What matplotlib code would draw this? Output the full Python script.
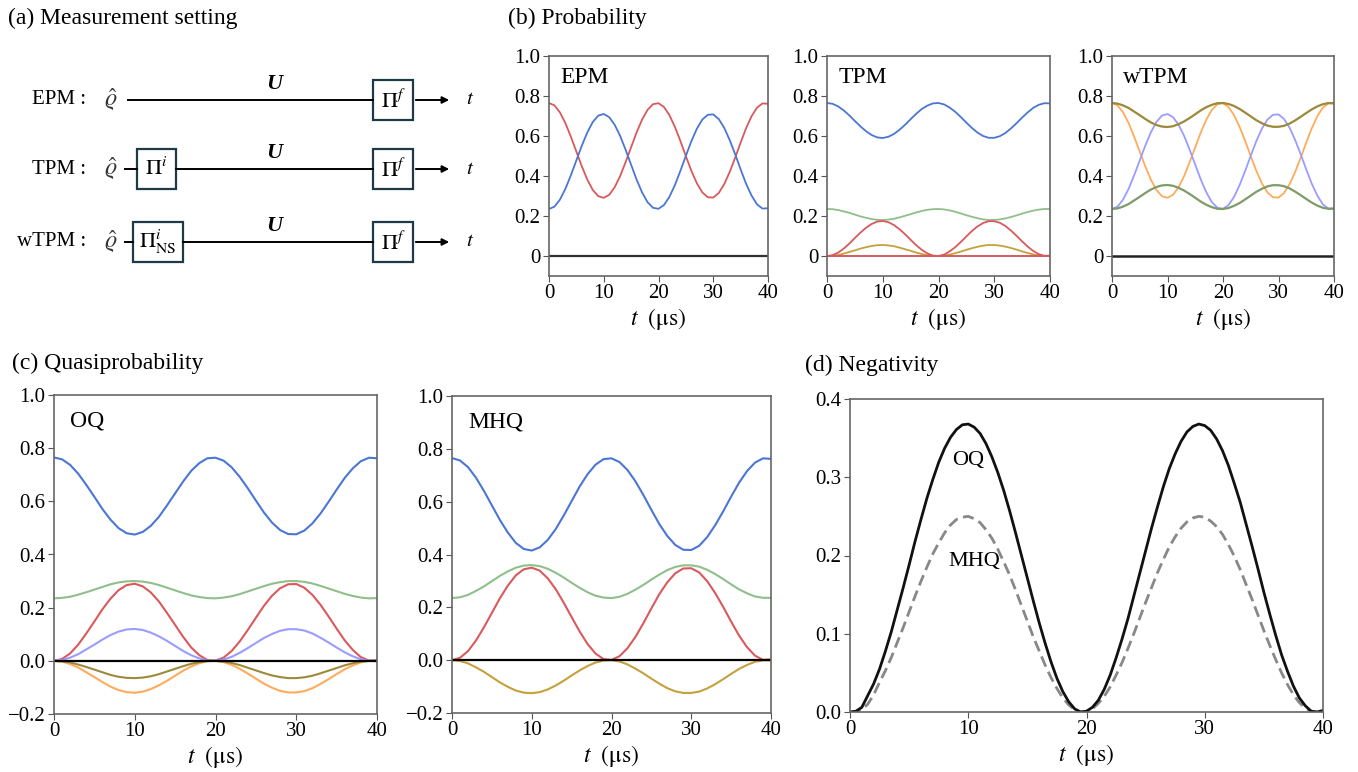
import matplotlib
matplotlib.use("Agg")
import matplotlib.pyplot as plt
from matplotlib.patches import Rectangle

plt.rcParams['font.family'] = ['Liberation Serif', 'DejaVu Serif']
plt.rcParams['mathtext.fontset'] = 'stix'

# time grid (us)
t = list(range(41))
t_half = [i / 2 for i in range(81)]

# (b) probability
epm_blue = [0.235, 0.247, 0.282, 0.336, 0.404, 0.478, 0.552, 0.618, 0.670, 0.702, 0.710, 0.694, 0.656, 0.600, 0.531, 0.456, 0.382, 0.318, 0.269, 0.241,
            0.236, 0.255, 0.296, 0.355, 0.426, 0.501, 0.574, 0.636, 0.682, 0.706, 0.708, 0.685, 0.641, 0.580, 0.509, 0.433, 0.361, 0.302, 0.258, 0.237, 0.239]
epm_red = [0.765, 0.753, 0.718, 0.664, 0.596, 0.522, 0.448, 0.382, 0.330, 0.299, 0.291, 0.306, 0.344, 0.400, 0.470, 0.544, 0.618, 0.682, 0.731, 0.759,
           0.764, 0.745, 0.704, 0.645, 0.575, 0.499, 0.426, 0.364, 0.318, 0.294, 0.292, 0.315, 0.359, 0.420, 0.491, 0.567, 0.639, 0.699, 0.742, 0.763, 0.761]

tpm_blue = [0.765, 0.761, 0.748, 0.728, 0.703, 0.675, 0.648, 0.624, 0.605, 0.593, 0.590, 0.596, 0.610, 0.631, 0.656, 0.684, 0.711, 0.735, 0.752, 0.763,
            0.765, 0.758, 0.742, 0.721, 0.695, 0.667, 0.640, 0.617, 0.600, 0.591, 0.591, 0.599, 0.615, 0.638, 0.664, 0.692, 0.718, 0.741, 0.756, 0.764, 0.763]
tpm_green = [0.235, 0.234, 0.230, 0.223, 0.216, 0.207, 0.198, 0.191, 0.185, 0.181, 0.180, 0.182, 0.186, 0.193, 0.201, 0.209, 0.218, 0.225, 0.231, 0.234,
             0.235, 0.233, 0.228, 0.221, 0.213, 0.204, 0.196, 0.189, 0.183, 0.180, 0.180, 0.183, 0.188, 0.195, 0.203, 0.212, 0.220, 0.227, 0.232, 0.235, 0.235]
tpm_red = [0.0, 0.004, 0.017, 0.037, 0.062, 0.090, 0.117, 0.141, 0.160, 0.172, 0.175, 0.169, 0.155, 0.134, 0.109, 0.081, 0.054, 0.031, 0.013, 0.002,
           0.0, 0.007, 0.023, 0.044, 0.070, 0.098, 0.125, 0.148, 0.165, 0.174, 0.174, 0.166, 0.150, 0.127, 0.101, 0.073, 0.047, 0.025, 0.009, 0.001, 0.002]
tpm_gold = [0.0, 0.001, 0.005, 0.012, 0.020, 0.028, 0.037, 0.044, 0.050, 0.054, 0.055, 0.053, 0.049, 0.042, 0.034, 0.026, 0.017, 0.010, 0.004, 0.001,
            0.0, 0.002, 0.007, 0.014, 0.022, 0.031, 0.039, 0.046, 0.052, 0.055, 0.055, 0.052, 0.047, 0.040, 0.032, 0.023, 0.015, 0.008, 0.003, 0.0, 0.0]

wtpm_olive = [0.765, 0.762, 0.753, 0.740, 0.722, 0.704, 0.685, 0.668, 0.655, 0.647, 0.645, 0.649, 0.659, 0.673, 0.690, 0.709, 0.728, 0.744, 0.756, 0.764,
              0.765, 0.760, 0.750, 0.735, 0.717, 0.698, 0.679, 0.664, 0.652, 0.646, 0.646, 0.651, 0.662, 0.678, 0.696, 0.715, 0.733, 0.748, 0.759, 0.765, 0.764]
wtpm_green = [0.235, 0.238, 0.247, 0.260, 0.278, 0.296, 0.315, 0.332, 0.345, 0.353, 0.355, 0.351, 0.341, 0.327, 0.310, 0.291, 0.272, 0.256, 0.244, 0.236,
              0.235, 0.240, 0.251, 0.265, 0.283, 0.302, 0.321, 0.336, 0.348, 0.354, 0.354, 0.349, 0.338, 0.322, 0.304, 0.285, 0.267, 0.252, 0.241, 0.236, 0.236]
wtpm_orange = epm_red
wtpm_lblue = epm_blue

# (c) quasiprobability
oq_blue = [0.765, 0.758, 0.737, 0.704, 0.662, 0.617, 0.571, 0.531, 0.499, 0.480, 0.475, 0.485, 0.508, 0.542, 0.585, 0.630, 0.675, 0.715, 0.744, 0.762,
           0.764, 0.753, 0.728, 0.692, 0.649, 0.603, 0.558, 0.520, 0.492, 0.477, 0.476, 0.490, 0.517, 0.554, 0.598, 0.644, 0.688, 0.724, 0.751, 0.764, 0.762]
oq_green = [0.235, 0.237, 0.241, 0.249, 0.258, 0.268, 0.278, 0.288, 0.295, 0.299, 0.300, 0.298, 0.293, 0.285, 0.275, 0.265, 0.255, 0.246, 0.240, 0.236,
            0.235, 0.238, 0.243, 0.251, 0.261, 0.271, 0.281, 0.290, 0.296, 0.300, 0.300, 0.297, 0.291, 0.282, 0.272, 0.262, 0.252, 0.244, 0.238, 0.235, 0.236]
oq_red = [0.0, 0.007, 0.028, 0.061, 0.103, 0.148, 0.194, 0.234, 0.266, 0.285, 0.290, 0.280, 0.257, 0.223, 0.180, 0.135, 0.090, 0.050, 0.021, 0.003,
          0.001, 0.012, 0.037, 0.073, 0.116, 0.162, 0.207, 0.245, 0.273, 0.288, 0.289, 0.275, 0.248, 0.211, 0.167, 0.121, 0.077, 0.041, 0.014, 0.001, 0.003]
oq_lblue = [0.0, 0.003, 0.012, 0.025, 0.043, 0.061, 0.080, 0.097, 0.110, 0.118, 0.120, 0.116, 0.106, 0.092, 0.075, 0.056, 0.037, 0.021, 0.009, 0.001,
            0.0, 0.005, 0.015, 0.030, 0.048, 0.067, 0.086, 0.101, 0.113, 0.119, 0.119, 0.114, 0.103, 0.087, 0.069, 0.050, 0.032, 0.017, 0.006, 0.0, 0.001]
oq_gold = [0.0, -0.002, -0.006, -0.014, -0.023, -0.033, -0.043, -0.053, -0.060, -0.064, -0.065, -0.063, -0.058, -0.050, -0.040, -0.030, -0.020, -0.011, -0.005, -0.001,
           0.0, -0.003, -0.008, -0.016, -0.026, -0.036, -0.046, -0.055, -0.061, -0.065, -0.065, -0.062, -0.056, -0.047, -0.037, -0.027, -0.017, -0.009, -0.003, 0.0, -0.001]
oq_orange = [0.0, -0.003, -0.012, -0.025, -0.043, -0.061, -0.080, -0.097, -0.110, -0.118, -0.120, -0.116, -0.106, -0.092, -0.075, -0.056, -0.037, -0.021, -0.009, -0.001,
             0.0, -0.005, -0.015, -0.030, -0.048, -0.067, -0.086, -0.101, -0.113, -0.119, -0.119, -0.114, -0.103, -0.087, -0.069, -0.050, -0.032, -0.017, -0.006, 0.0, -0.001]

mhq_blue = [0.765, 0.756, 0.731, 0.691, 0.641, 0.586, 0.531, 0.483, 0.444, 0.421, 0.415, 0.427, 0.455, 0.496, 0.547, 0.602, 0.657, 0.704, 0.740, 0.761,
            0.764, 0.750, 0.720, 0.677, 0.625, 0.569, 0.515, 0.470, 0.436, 0.418, 0.417, 0.433, 0.466, 0.511, 0.563, 0.619, 0.672, 0.716, 0.748, 0.764, 0.762]
mhq_green = [0.235, 0.238, 0.247, 0.262, 0.279, 0.299, 0.319, 0.336, 0.350, 0.358, 0.360, 0.356, 0.346, 0.331, 0.313, 0.293, 0.274, 0.257, 0.244, 0.237,
             0.235, 0.240, 0.251, 0.267, 0.285, 0.305, 0.324, 0.341, 0.353, 0.359, 0.359, 0.354, 0.342, 0.326, 0.307, 0.287, 0.268, 0.253, 0.241, 0.236, 0.236]
mhq_red = [0.0, 0.009, 0.034, 0.074, 0.124, 0.179, 0.234, 0.282, 0.321, 0.344, 0.350, 0.339, 0.310, 0.269, 0.218, 0.163, 0.109, 0.061, 0.025, 0.004,
           0.001, 0.015, 0.045, 0.088, 0.140, 0.196, 0.250, 0.295, 0.329, 0.347, 0.348, 0.332, 0.299, 0.254, 0.202, 0.146, 0.093, 0.049, 0.017, 0.001, 0.003]
mhq_gold = [0.0, -0.003, -0.012, -0.027, -0.044, -0.064, -0.084, -0.101, -0.115, -0.123, -0.125, -0.121, -0.111, -0.096, -0.078, -0.058, -0.039, -0.022, -0.009, -0.002,
            0.0, -0.005, -0.016, -0.032, -0.050, -0.070, -0.089, -0.106, -0.118, -0.124, -0.124, -0.119, -0.107, -0.091, -0.072, -0.052, -0.033, -0.018, -0.006, -0.001, -0.001]

# (d) negativity, read every 0.5 us
neg_oq = [0.0, 0.001, 0.006, 0.021, 0.036, 0.055, 0.078, 0.103, 0.131, 0.159, 0.188, 0.218, 0.246, 0.273, 0.297, 0.319, 0.337, 0.351, 0.361, 0.367,
          0.368, 0.364, 0.356, 0.343, 0.326, 0.306, 0.283, 0.257, 0.229, 0.200, 0.171, 0.142, 0.114, 0.088, 0.064, 0.043, 0.026, 0.013, 0.004, 0.000,
          0.001, 0.006, 0.015, 0.029, 0.047, 0.069, 0.093, 0.119, 0.148, 0.177, 0.206, 0.235, 0.262, 0.288, 0.311, 0.330, 0.346, 0.358, 0.365, 0.368,
          0.366, 0.360, 0.349, 0.334, 0.315, 0.292, 0.268, 0.240, 0.212, 0.183, 0.153, 0.125, 0.098, 0.073, 0.052, 0.033, 0.018, 0.008, 0.001, 0.000,
          0.002]
neg_mhq = [0.0, 0.0, 0.003, 0.010, 0.022, 0.038, 0.053, 0.070, 0.089, 0.108, 0.128, 0.148, 0.167, 0.185, 0.202, 0.216, 0.229, 0.239, 0.246, 0.249,
           0.250, 0.247, 0.242, 0.233, 0.222, 0.208, 0.192, 0.175, 0.156, 0.136, 0.116, 0.096, 0.078, 0.060, 0.044, 0.030, 0.018, 0.009, 0.003, 0.000,
           0.001, 0.004, 0.011, 0.020, 0.032, 0.047, 0.063, 0.081, 0.100, 0.120, 0.140, 0.159, 0.178, 0.195, 0.211, 0.224, 0.235, 0.243, 0.248, 0.250,
           0.249, 0.244, 0.237, 0.227, 0.214, 0.199, 0.182, 0.163, 0.144, 0.124, 0.104, 0.085, 0.067, 0.050, 0.035, 0.022, 0.012, 0.005, 0.001, 0.000,
           0.001]
zero = [0.0] * 41

BLUE = '#4a76d4'
RED = '#d9595c'
GREEN = '#8fbf8a'
GOLD = '#c4a13c'
OLIVE = '#9c8a3a'
ORANGE = '#ffab5c'
LBLUE = '#9a9cff'
DGREEN = '#7f9c68'

W, H = 1358, 772
fig = plt.figure(figsize=(W / 100, H / 100), dpi=100)


def add_ax(l, top, r, b):
    return fig.add_axes([l / W, 1 - b / H, (r - l) / W, (b - top) / H])


def style(ax, ylim, yticks, ylabels, name=None, xlabel=True):
    ax.set_xlim(0, 40)
    ax.set_ylim(*ylim)
    ax.set_xticks([0, 10, 20, 30, 40])
    ax.set_yticks(yticks)
    ax.set_yticklabels(ylabels)
    ax.tick_params(labelsize=15, direction='out', length=4, color='#555555', pad=2)
    for sp in ax.spines.values():
        sp.set_color('#666666')
        sp.set_linewidth(1.2)
    if xlabel:
        ax.set_xlabel(r'$t\ \ (\mathrm{\mu s})$', fontsize=17, labelpad=2)
    if name:
        ax.text(0.05, 0.95, name, transform=ax.transAxes, fontsize=17, va='top', ha='left')


# ---- (a) measurement setting diagram ----
axa = fig.add_axes([0, 0, 1, 1])
axa.set_xlim(0, W)
axa.set_ylim(H, 0)
axa.axis('off')
fig.text(8 / W, 1 - 18 / H, '(a) Measurement setting', fontsize=17, va='center', ha='left')

rows = [('EPM :', 100, None), ('TPM :', 169, r'$\Pi^{i}$'), ('wTPM :', 242, r'$\Pi^{i}_{\mathrm{NS}}$')]
box_col = '#1e3a46'
for label, y, first in rows:
    axa.text(86, y, label, fontsize=15, ha='right', va='center')
    axa.text(111, y, r'$\hat{\varrho}$', fontsize=17, ha='center', va='center', color='#333333')
    if first is None:
        x0 = 128
    else:
        bw = 39 if 'NS' not in first else 50
        bx = 137 if 'NS' not in first else 133
        axa.plot([125, bx], [y, y], color='k', lw=1.4)
        axa.add_patch(Rectangle((bx, y - 20), bw, 40, fill=False, ec=box_col, lw=1.6))
        axa.text(bx + bw / 2, y, first, fontsize=16, ha='center', va='center')
        x0 = bx + bw
    axa.plot([x0, 373], [y, y], color='k', lw=1.4)
    axa.add_patch(Rectangle((373, y - 20), 40, 40, fill=False, ec=box_col, lw=1.6))
    axa.text(393, y + 1, r'$\Pi^{f}$', fontsize=16, ha='center', va='center')
    axa.annotate('', xy=(452, y), xytext=(413, y),
                 arrowprops=dict(arrowstyle='-|>', color='k', lw=1.4, mutation_scale=10))
    axa.text(470, y, r'$t$', fontsize=15, ha='center', va='center')
    axa.text(274, y - 16, 'U', fontsize=16, fontweight='bold', style='italic', ha='center', va='center')

# ---- (b) probability ----
fig.text(508 / W, 1 - 18 / H, '(b) Probability', fontsize=17, va='center', ha='left')
b_ticks = [0, 0.2, 0.4, 0.6, 0.8, 1.0]
b_labels = ['0', '0.2', '0.4', '0.6', '0.8', '1.0']

ax = add_ax(549, 56, 768, 276)
ax.plot(t, epm_red, color=RED, lw=1.3)
ax.plot(t, epm_blue, color=BLUE, lw=1.3)
ax.plot(t, zero, color='#333333', lw=1.6)
style(ax, (-0.1, 1.0), b_ticks, b_labels, 'EPM')

ax = add_ax(827, 56, 1050, 276)
ax.plot(t, tpm_blue, color=BLUE, lw=1.3)
ax.plot(t, tpm_green, color=GREEN, lw=1.3)
ax.plot(t, tpm_gold, color=GOLD, lw=1.3)
ax.plot(t, tpm_red, color=RED, lw=1.3)
ax.plot(t, zero, color=RED, lw=1.4)
style(ax, (-0.1, 1.0), b_ticks, b_labels, 'TPM')

ax = add_ax(1112, 56, 1334, 276)
ax.plot(t, wtpm_orange, color=ORANGE, lw=1.3)
ax.plot(t, wtpm_lblue, color=LBLUE, lw=1.3)
ax.plot(t, wtpm_green, color=DGREEN, lw=1.6)
ax.plot(t, wtpm_olive, color=OLIVE, lw=1.6)
ax.plot(t, zero, color='#222222', lw=1.8)
style(ax, (-0.1, 1.0), b_ticks, b_labels, 'wTPM')

# ---- (c) quasiprobability ----
fig.text(12 / W, 1 - 363 / H, '(c) Quasiprobability', fontsize=17, va='center', ha='left')
c_ticks = [-0.2, 0, 0.2, 0.4, 0.6, 0.8, 1.0]
c_labels = ['\u22120.2', '0.0', '0.2', '0.4', '0.6', '0.8', '1.0']

ax = add_ax(54, 395, 377, 714)
ax.plot(t, oq_blue, color=BLUE, lw=1.5)
ax.plot(t, oq_green, color=GREEN, lw=1.5)
ax.plot(t, oq_red, color=RED, lw=1.5)
ax.plot(t, oq_lblue, color=LBLUE, lw=1.5)
ax.plot(t, oq_orange, color=ORANGE, lw=1.5)
ax.plot(t, oq_gold, color=OLIVE, lw=1.5)
ax.plot(t, zero, color='k', lw=1.6)
style(ax, (-0.2, 1.0), c_ticks, c_labels, 'OQ')

ax = add_ax(452, 396, 771, 713)
ax.plot(t, mhq_blue, color=BLUE, lw=1.5)
ax.plot(t, mhq_green, color=GREEN, lw=1.5)
ax.plot(t, mhq_red, color=RED, lw=1.5)
ax.plot(t, mhq_gold, color=GOLD, lw=1.5)
ax.plot(t, zero, color='k', lw=1.6)
style(ax, (-0.2, 1.0), c_ticks, c_labels, 'MHQ')

# ---- (d) negativity ----
fig.text(805 / W, 1 - 365 / H, '(d) Negativity', fontsize=17, va='center', ha='left')
ax = add_ax(850, 399, 1323, 712)
ax.plot(t_half, neg_mhq, color='#888888', lw=2.0, ls='--', dashes=(4, 2))
ax.plot(t_half, neg_oq, color='#111111', lw=2.0)
style(ax, (0, 0.4), [0, 0.1, 0.2, 0.3, 0.4], ['0.0', '0.1', '0.2', '0.3', '0.4'])
ax.text(10, 0.322, 'OQ', fontsize=16, ha='center', va='center')
ax.text(10.5, 0.192, 'MHQ', fontsize=16, ha='center', va='center')

fig.savefig('out.png', dpi=100)
